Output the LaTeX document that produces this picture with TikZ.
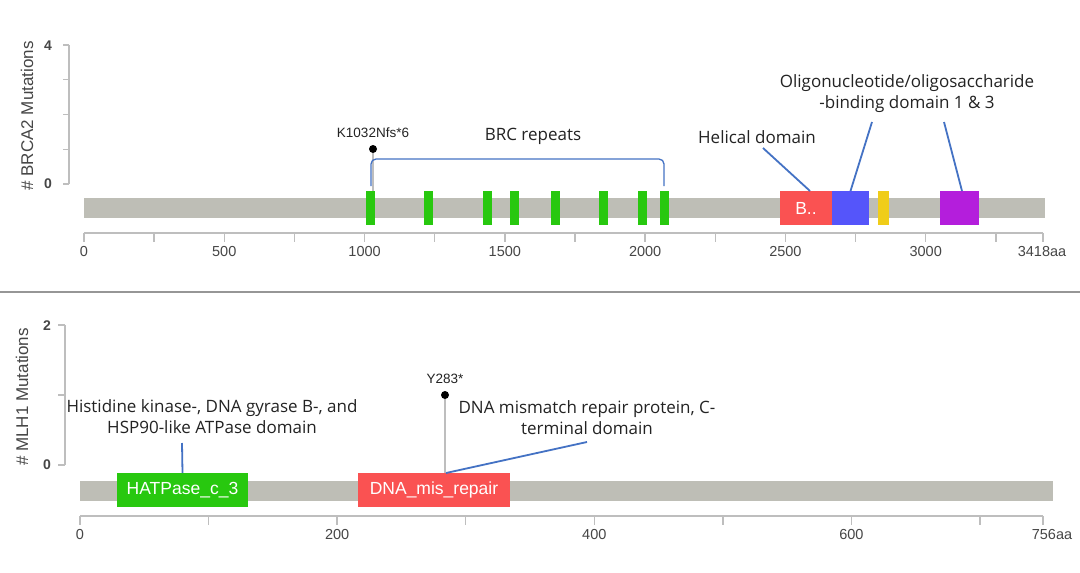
\documentclass[tikz,border=0pt]{standalone}
\usepackage{fontspec}
\setmainfont{Liberation Sans}
\newfontfamily\annfont{Open Sans}
\usetikzlibrary{calc}
\definecolor{bargray}{RGB}{190,190,182}
\definecolor{axgray}{RGB}{190,190,190}
\definecolor{brcgreen}{RGB}{40,200,15}
\definecolor{domred}{RGB}{250,82,82}
\definecolor{domblue}{RGB}{85,85,250}
\definecolor{domyellow}{RGB}{240,205,25}
\definecolor{dompurple}{RGB}{180,30,220}
\definecolor{linkblue}{RGB}{68,114,196}
\definecolor{txt}{RGB}{35,35,35}
\definecolor{ytxt}{RGB}{70,70,70}
\definecolor{sepgray}{RGB}{150,150,150}
\begin{document}
\begin{tikzpicture}[x=1pt,y=-1pt,
  ylab/.style={rotate=90,text=ytxt,font=\fontsize{17}{19}\selectfont,inner sep=0},
  ynum/.style={text=ytxt,font=\bfseries\fontsize{14}{16}\selectfont,inner sep=0},
  xnum/.style={text=ytxt,font=\fontsize{14.5}{16}\selectfont,inner sep=0},
  axis/.style={draw=axgray,line width=1.4pt},
  bar/.style={fill=bargray,inner sep=0,outer sep=0},
  dom/.style={inner sep=0,outer sep=0,minimum height=34,text=white,font=\fontsize{17.5}{19}\selectfont},
  brc/.style={fill=brcgreen,inner sep=0,outer sep=0,minimum width=9,minimum height=34},
  ann/.style={text=txt,font=\annfont\fontsize{17}{21}\selectfont,align=center,inner sep=0},
  mutlab/.style={text=txt,font=\fontsize{13.5}{15}\selectfont,inner sep=0},
  mdot/.style={circle,fill=black,inner sep=0,minimum size=8},
  stem/.style={draw=axgray,line width=1.2pt},
  link/.style={draw=linkblue,line width=1.8pt},
  sep/.style={draw=sepgray,line width=1.2pt}]
\useasboundingbox[fill=white] (0,0) rectangle (1080,573);

% ---------------- top panel: BRCA2 ----------------
\node[ylab] (ytA) at (27,116) {\# BRCA2 Mutations};
\node[ynum] (y4) at (48,46) {4};
\node[ynum] (y0A) at (48,184) {0};
\draw[axis] (69,45) -- (69,184);
\foreach \yy in {45,79.75,114.5,149.25,184} \draw[axis] (63,\yy) -- (69,\yy);

\node[bar,minimum width=961,minimum height=20] (barA) at (564.5,208) {};

\draw[axis] (84,233) -- (1043,233);
\foreach \aa in {0,250,...,3250} \draw[axis] ({84+\aa*0.28057},233) -- ++(0,9);
\draw[axis] (1043,233) -- ++(0,9);
\foreach \aa in {0,500,...,3000} \node[xnum] at ({84+\aa*0.28057},252) {\aa};
\node[xnum] (endA) at (1042,252) {3418aa};

% lollipop
\node[mdot] (mutA) at (373,149) {};
\node[mutlab] (mutAlab) at (373,133) {K1032Nfs*6};
\coordinate (mutAbase) at (373,191);
\draw[stem] (mutA) -- (mutAbase);

% BRC repeats
\foreach \n/\xx in {1/370,2/428,3/487,4/514,5/555,6/603,7/642,8/664}
  \node[brc] (brc\n) at (\xx,208) {};
\coordinate (brcL) at (371,186);
\coordinate (brcR) at (664,186);
\draw[link,line width=1.3pt,rounded corners=5] (brcL) -- (371,159) -| (brcR);
\node[ann] (brclab) at (533,136) {BRC repeats};

% domains
\node[dom,fill=domred,minimum width=52] (hel) at (806,208) {B..};
\node[dom,fill=domblue,minimum width=37] (obA) at (850.5,208) {};
\node[dom,fill=domyellow,minimum width=11] (yel) at (883.5,208) {};
\node[dom,fill=dompurple,minimum width=39] (obB) at (959.5,208) {};

\node[ann] (hellab) at (757,137) {Helical domain};
\node[ann] (oblab) at (907,94) {Oligonucleotide/oligosaccharide\\-binding domain 1 \& 3};
\coordinate (helend) at (763,148);
\coordinate (obAend) at (872,122);
\coordinate (obBend) at (944,122);
\draw[link] (helend) -- ($(hel.north)+(4,0)$);
\draw[link] (obAend) -- (obA.north);
\draw[link] (obBend) -- ($(obB.north)+(2.5,0)$);

% separator
\draw[sep] (0,292) -- (1080,292);

% ---------------- bottom panel: MLH1 ----------------
\node[ylab] (ytB) at (22,397) {\# MLH1 Mutations};
\node[ynum] (y2) at (47,326) {2};
\node[ynum] (y0B) at (47,465) {0};
\draw[axis] (65,325) -- (65,465);
\foreach \yy in {325,395,465} \draw[axis] (58,\yy) -- (65,\yy);

\node[bar,minimum width=973,minimum height=20] (barB) at (566.5,491) {};

\draw[axis] (80,516) -- (1043,516);
\foreach \aa in {0,100,...,700} \draw[axis] ({80+\aa*1.2857},516) -- ++(0,9);
\draw[axis] (1043,516) -- ++(0,9);
\foreach \aa in {0,200,400,600} \node[xnum] at ({80+\aa*1.2857},535) {\aa};
\node[xnum] (endB) at (1052,535) {756aa};

\node[dom,fill=brcgreen,minimum width=131] (hat) at (182.5,490) {HATPase\_c\_3};
\node[dom,fill=domred,minimum width=152] (dna) at (434,490) {DNA\_mis\_repair};

\node[mdot] (mutB) at (445,395) {};
\node[mutlab] (mutBlab) at (445,379) {Y283*};
\draw[stem] (mutB) -- (445,473);

\node[ann] (hatlab) at (212,417) {Histidine kinase-, DNA gyrase B-, and\\HSP90-like ATPase domain};
\node[ann] (dnalab) at (587,418) {DNA mismatch repair protein, C-\\terminal domain};
\coordinate (hatend) at (182,443);
\coordinate (dnaend) at (587,442);
\draw[link] (hatend) -- (hat.north);
\draw[link] (dnaend) -- ($(dna.north)+(12,0)$);
\end{tikzpicture}
\end{document}
